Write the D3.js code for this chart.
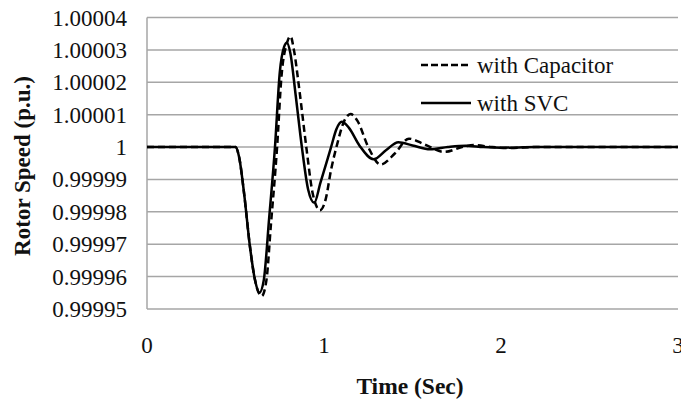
<!DOCTYPE html>
<html>
<head>
<meta charset="utf-8">
<script src="https://cdn.jsdelivr.net/npm/d3@7"></script>
<style>
  body { margin: 0; background: #fff; }
  svg text { font-family: "Liberation Serif", "Times New Roman", serif; fill: #111; }
</style>
</head>
<body>
<div id="chart"></div>
<script>
// time axis (sec) and rotor speed (p.u.)
const capTime = [0, 0.5, 0.52, 0.55, 0.58, 0.61, 0.648, 0.675, 0.70, 0.735, 0.76, 0.79, 0.811, 0.83, 0.86, 0.90, 0.935, 0.977, 1.01, 1.04, 1.075, 1.11, 1.15, 1.19, 1.25, 1.32, 1.40, 1.48, 1.56, 1.68, 1.78, 1.85, 1.95, 2.05, 2.2, 3.0];
const capSpeed = [1, 1, 0.999997, 0.999985, 0.99997, 0.999959, 0.999954, 0.999959, 0.999976, 1.0, 1.000022, 1.000032, 1.0000342, 1.00003, 1.000018, 1.0, 0.999986, 0.9999805, 0.999984, 0.999993, 1.000001, 1.0000075, 1.0000102, 1.000008, 1.0, 0.9999946, 0.999998, 1.0000026, 1.000001, 0.9999985, 1.0, 1.0000006, 1.0, 0.9999997, 1, 1];

const svcTime = [0, 0.5, 0.52, 0.55, 0.58, 0.61, 0.635, 0.66, 0.69, 0.723, 0.75, 0.775, 0.79, 0.81, 0.84, 0.875, 0.91, 0.945, 0.98, 1.04, 1.07, 1.10, 1.14, 1.2, 1.28, 1.35, 1.42, 1.5, 1.6, 1.7, 1.8, 1.9, 2.0, 2.2, 3.0];
const svcSpeed = [1, 1, 0.999997, 0.999985, 0.99997, 0.999959, 0.999955, 0.999959, 0.999978, 1.0, 1.000023, 1.000031, 1.0000322, 1.000029, 1.000016, 1.0, 0.999987, 0.9999828, 0.999989, 1.0, 1.0000055, 1.0000078, 1.000006, 1.0000005, 0.9999962, 0.999999, 1.0000015, 1.0000005, 0.9999993, 1.0, 1.0000004, 1.0, 0.9999998, 1, 1];

const xTicks = [0, 1, 2, 3];
const yTicks = [0.99995, 0.99996, 0.99997, 0.99998, 0.99999, 1, 1.00001, 1.00002, 1.00003, 1.00004];
const seriesNames = ["with Capacitor", "with SVC"];

const width = 681, height = 401;
const margin = { top: 17.5, right: 3, bottom: 92, left: 147 };

const svg = d3.select("#chart").append("svg")
  .attr("width", width)
  .attr("height", height);

const x = d3.scaleLinear().domain([0, 3]).range([margin.left, width - margin.right]);
const y = d3.scaleLinear().domain([0.99995, 1.00004]).range([height - margin.bottom, margin.top]);

// gridlines
svg.append("g")
  .selectAll("line")
  .data(yTicks)
  .join("line")
  .attr("x1", margin.left)
  .attr("x2", width - margin.right)
  .attr("y1", d => y(d))
  .attr("y2", d => y(d))
  .attr("stroke", "#a6a6a6")
  .attr("stroke-width", 1.5);

// left border
svg.append("line")
  .attr("x1", margin.left).attr("x2", margin.left)
  .attr("y1", y(1.00004)).attr("y2", y(0.99995))
  .attr("stroke", "#a6a6a6")
  .attr("stroke-width", 1.5);

// y tick labels
const fmt = d => d === 1 ? "1" : d3.format(".5f")(d);
svg.append("g")
  .selectAll("text")
  .data(yTicks)
  .join("text")
  .attr("x", margin.left - 20)
  .attr("y", d => y(d))
  .attr("dy", "0.35em")
  .attr("text-anchor", "end")
  .style("font-size", "23px")
  .text(fmt);

// x tick labels
svg.append("g")
  .selectAll("text")
  .data(xTicks)
  .join("text")
  .attr("x", d => x(d))
  .attr("y", 353)
  .attr("text-anchor", "middle")
  .style("font-size", "23px")
  .text(d => d);

// axis titles
svg.append("text")
  .attr("x", 410)
  .attr("y", 394)
  .attr("text-anchor", "middle")
  .style("font-size", "23.5px")
  .style("font-weight", "bold")
  .text("Time (Sec)");

svg.append("text")
  .attr("transform", "translate(30,166) rotate(-90)")
  .attr("text-anchor", "middle")
  .style("font-size", "23px")
  .style("font-weight", "bold")
  .text("Rotor Speed (p.u.)");

// curves
const line = d3.line()
  .x(d => x(d[0]))
  .y(d => y(d[1]))
  .curve(d3.curveMonotoneX);

const capData = d3.zip(capTime, capSpeed);
const svcData = d3.zip(svcTime, svcSpeed);

svg.append("path")
  .datum(svcData)
  .attr("d", line)
  .attr("fill", "none")
  .attr("stroke", "#000")
  .attr("stroke-width", 2.5);

svg.append("path")
  .datum(capData)
  .attr("d", line)
  .attr("fill", "none")
  .attr("stroke", "#000")
  .attr("stroke-width", 2.5)
  .attr("stroke-dasharray", "7,4");

// legend
const legend = svg.append("g");
const legY = [65, 103];
seriesNames.forEach((name, i) => {
  legend.append("line")
    .attr("x1", 421).attr("x2", 471)
    .attr("y1", legY[i]).attr("y2", legY[i])
    .attr("stroke", "#000")
    .attr("stroke-width", 2.5)
    .attr("stroke-dasharray", i === 0 ? "7,3" : null);
  legend.append("text")
    .attr("x", 477)
    .attr("y", legY[i])
    .attr("dy", "0.35em")
    .style("font-size", "23px")
    .text(name);
});
</script>
</body>
</html>
